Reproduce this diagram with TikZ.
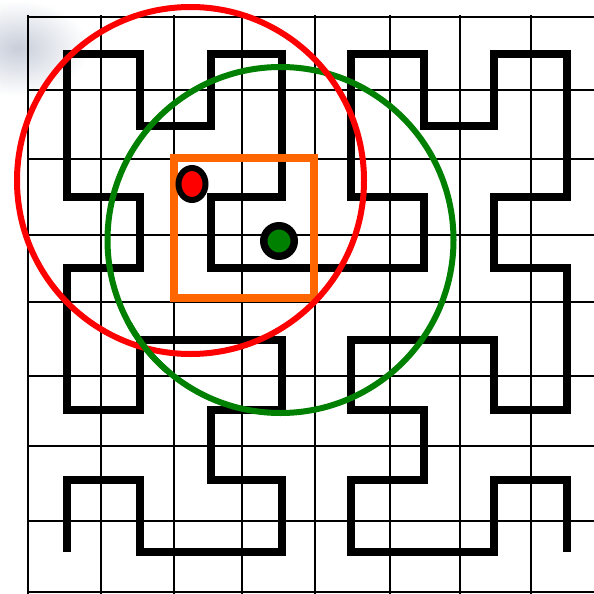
\documentclass[tikz,border=0pt]{standalone}
\begin{document}
\begin{tikzpicture}[x=1pt,y=-1pt,
  gridline/.style={line width=1.8pt,black},
  hcurve/.style={line width=8pt,black,line join=miter},
  ring/.style={line width=6pt},
  dotmark/.style={draw=black,line width=6pt}]
\definecolor{cred}{RGB}{255,0,0}
\definecolor{cgreen}{RGB}{0,128,0}
\definecolor{corange}{RGB}{255,102,0}
\definecolor{cblur}{RGB}{200,206,218}
\useasboundingbox (0,0) rectangle (594,594);
\fill[white] (0,0) rectangle (594,594);
% faint screenshot artefact, top left
\shade[inner color=cblur,outer color=white] (18,48) ellipse [x radius=70, y radius=48];
% grid
\foreach \x in {28,101,174,242,315,390,460,531}
  \draw[gridline] (\x,15) -- (\x,594);
\foreach \y in {17,90,159,235,302,376,446,521,592}
  \draw[gridline] (27,\y) -- (594,\y);
% curve vertices
\foreach \x [count=\i from 0] in {67,140,211,282,351,424,494,567}
  \foreach \y [count=\j from 0] in {54,126,197,268,340,410,480,552}
    \coordinate (c\i\j) at (\x,\y);
\draw[hcurve] (c07) -- (c06) -- (c16) -- (c17) -- (c27) -- (c37) -- (c36) -- (c26) -- (c25) -- (c35) -- (c34) -- (c24) -- (c14) -- (c15) -- (c05) -- (c04)
  -- (c03) -- (c13) -- (c12) -- (c02) -- (c01) -- (c00) -- (c10) -- (c11) -- (c21) -- (c20) -- (c30) -- (c31) -- (c32) -- (c22) -- (c23) -- (c33)
  -- (c43) -- (c53) -- (c52) -- (c42) -- (c41) -- (c40) -- (c50) -- (c51) -- (c61) -- (c60) -- (c70) -- (c71) -- (c72) -- (c62) -- (c63) -- (c73)
  -- (c74) -- (c75) -- (c65) -- (c64) -- (c54) -- (c44) -- (c45) -- (c55) -- (c56) -- (c46) -- (c47) -- (c57) -- (c67) -- (c66) -- (c76) -- (c77);
% orange square
\draw[corange,line width=7.5pt] (174,158) rectangle (314,298);
% circles
\coordinate (gc) at (280.5,240);
\coordinate (rc) at (190.5,180.5);
\draw[cgreen,ring] (gc) circle [radius=173];
\draw[cred,ring] (rc) circle [radius=173.5];
\begin{scope}
  \clip (120,322) rectangle (170,372);
  \draw[cgreen,ring] (gc) circle [radius=173];
\end{scope}
% centre dots
\filldraw[dotmark,fill=cred] (192,184) ellipse [x radius=13.5, y radius=16];
\filldraw[dotmark,fill=cgreen,line width=7.5pt] (279,241) circle [radius=15.25];
\end{tikzpicture}
\end{document}
